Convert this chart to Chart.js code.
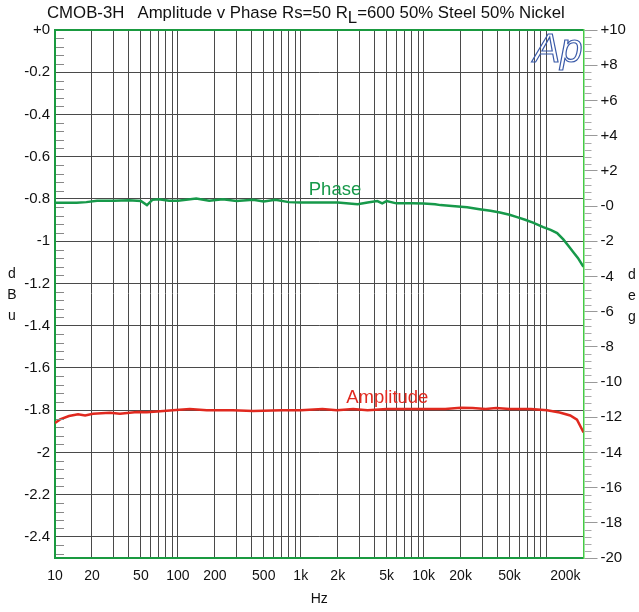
<!DOCTYPE html>
<html>
<head>
<meta charset="utf-8">
<script src="https://cdn.jsdelivr.net/npm/chart.js@4.4.0/dist/chart.umd.min.js"></script>
<style>
body{margin:0;background:#fff;font-family:"Liberation Sans",Arial,sans-serif;}
#box{position:relative;width:639px;height:612px;}
#titolo{position:absolute;left:47px;top:3px;font-size:16.8px;color:#111;white-space:pre;}
.lett{position:absolute;font-size:14px;color:#111;line-height:21px;text-align:center;width:12px;}
</style>
</head>
<body>
<div id="box">
<canvas id="grafico"></canvas>
<div id="titolo">CMOB-3H   Amplitude v Phase Rs=50 R<span style="position:relative;top:5px">L</span>=600 50% Steel 50% Nickel</div>
<div class="lett" style="left:6px;top:263px">d<br>B<br>u</div>
<div class="lett" style="left:626px;top:264px">d<br>e<br>g</div>
</div>
<script>
// dati
let ampFreq = [10, 11, 13, 15.4, 17.6, 20.4, 28, 33.8, 46.5, 56, 67.6, 91, 125, 172, 280, 410, 700, 1000, 1500, 1970, 2670, 3500, 5000, 10000, 15000, 20000, 25000, 32000, 39000, 50000, 75000, 101000, 128000, 156000, 177000, 195000, 200000];
let ampDb = [-1.861, -1.844, -1.828, -1.819, -1.825, -1.817, -1.812, -1.817, -1.809, -1.81, -1.806, -1.801, -1.795, -1.801, -1.80, -1.804, -1.80, -1.80, -1.794, -1.80, -1.794, -1.80, -1.795, -1.795, -1.795, -1.789, -1.79, -1.794, -1.79, -1.795, -1.795, -1.80, -1.811, -1.825, -1.845, -1.893, -1.905];

let phaseFreq = [10, 15, 18, 22, 30, 40, 50, 56, 62, 70, 85, 100, 141, 180, 232, 300, 410, 500, 620, 800, 1000, 2000, 2900, 3500, 4200, 4600, 5000, 6000, 8000, 10000, 12400, 13700, 17000, 22600, 28500, 35000, 41800, 50000, 57600, 67000, 77600, 94000, 108000, 122000, 137000, 150000, 166000, 180000, 195000, 200000];
let phaseDeg = [0.18, 0.18, 0.22, 0.3, 0.3, 0.32, 0.28, 0.05, 0.35, 0.38, 0.3, 0.3, 0.42, 0.3, 0.38, 0.28, 0.36, 0.25, 0.36, 0.22, 0.2, 0.2, 0.1, 0.2, 0.28, 0.15, 0.28, 0.15, 0.15, 0.14, 0.1, 0.05, 0.0, -0.07, -0.18, -0.27, -0.37, -0.5, -0.63, -0.78, -0.94, -1.2, -1.36, -1.54, -1.9, -2.25, -2.64, -2.95, -3.34, -3.45];

let xTickValues = [10, 20, 50, 100, 200, 500, 1000, 2000, 5000, 10000, 20000, 50000, 200000];
let xTickLabels = ['10', '20', '50', '100', '200', '500', '1k', '2k', '5k', '10k', '20k', '50k', '200k'];
let dbTicks = [0, -0.2, -0.4, -0.6, -0.8, -1, -1.2, -1.4, -1.6, -1.8, -2, -2.2, -2.4];
let degTicks = [10, 8, 6, 4, 2, 0, -2, -4, -6, -8, -10, -12, -14, -16, -18, -20];

let etichette = [
  {testo: 'Phase', f: 1900, v: 0.9, asse: 'y2', colore: '#17994a'},
  {testo: 'Amplitude', f: 5060, v: -1.744, asse: 'y', colore: '#e0291f'}
];

let verde = '#1a9a40';
let griglia = '#4a4a4a';
let fmin = 10, fmax = 200000;

function punti(fs, vs) {
  let r = [];
  for (let i = 0; i < fs.length; i++) r.push({x: fs[i], y: vs[i]});
  return r;
}

function etichettaDb(v) {
  if (v == 0) return '+0';
  if (Number.isInteger(v)) return String(v);
  return v.toFixed(1);
}

function etichettaDeg(v) {
  if (v > 0) return '+' + v;
  if (v == 0) return '-0';
  return String(v);
}

let extra = {
  id: 'extra',
  afterDraw(chart) {
    let c = chart.ctx, a = chart.chartArea;
    let sx = chart.scales.x, sy = chart.scales.y, sy2 = chart.scales.y2;
    c.save();
    c.lineWidth = 1;
    // tacche minori sinistra
    c.strokeStyle = '#888';
    for (let i = 1; i <= 62; i++) {
      if (i % 5 == 0) continue;
      let y = Math.round(sy.getPixelForValue(-i * 0.04)) + 0.5;
      c.beginPath(); c.moveTo(a.left + 1, y); c.lineTo(a.left + 9, y); c.stroke();
    }
    // tacche minori destra
    c.strokeStyle = '#aaa';
    for (let i = 1; i < 75; i++) {
      if (i % 5 == 0) continue;
      let y = Math.round(sy2.getPixelForValue(10 - i * 0.4)) + 0.5;
      c.beginPath(); c.moveTo(a.right + 1, y); c.lineTo(a.right + 8, y); c.stroke();
    }
    // etichette asse x
    c.font = '14px "Liberation Sans", Arial';
    c.fillStyle = '#111';
    c.textBaseline = 'middle';
    for (let i = 0; i < xTickValues.length; i++) {
      let x = sx.getPixelForValue(xTickValues[i]);
      if (i == xTickValues.length - 1) { c.textAlign = 'right'; x -= 3; }
      else c.textAlign = 'center';
      c.fillText(xTickLabels[i], x, a.bottom + 18);
    }
    // testi sulle curve
    c.font = '18.5px "Liberation Sans", Arial';
    c.textAlign = 'center';
    etichette.forEach(e => {
      c.fillStyle = e.colore;
      let s = chart.scales[e.asse];
      c.fillText(e.testo, sx.getPixelForValue(e.f), s.getPixelForValue(e.v));
    });
    // logo Ap
    c.font = 'italic 40px "Liberation Sans", Arial';
    c.textAlign = 'left';
    c.textBaseline = 'alphabetic';
    c.strokeStyle = '#3a5aa8';
    c.lineWidth = 1.2;
    c.strokeText('Ap', a.right - 50, a.top + 32);
    c.restore();
  }
};

let ctx = document.getElementById('grafico');
let grafico = new Chart(ctx, {
  type: 'line',
  data: {
    datasets: [
      {label: 'Amplitude', data: punti(ampFreq, ampDb), yAxisID: 'y', borderColor: '#e0291f', borderWidth: 2.5, pointRadius: 0},
      {label: 'Phase', data: punti(phaseFreq, phaseDeg), yAxisID: 'y2', borderColor: '#17994a', borderWidth: 2.5, pointRadius: 0}
    ]
  },
  options: {
    responsive: true,
    maintainAspectRatio: false,
    animation: false,
    layout: {padding: {top: 30, left: 0, right: 0, bottom: 0}},
    plugins: {legend: {display: false}, tooltip: {enabled: false}},
    scales: {
      x: {
        type: 'logarithmic',
        min: fmin,
        max: fmax,
        afterFit: s => { s.height = 54; },
        afterBuildTicks: s => {
          let t = [];
          for (let d = 10; d <= 100000; d *= 10)
            for (let k = 1; k <= 9; k++)
              if (d * k <= fmax) t.push({value: d * k});
          s.ticks = t;
        },
        ticks: {display: false},
        grid: {
          color: c => (c.tick && c.tick.value == fmin) ? 'rgba(0,0,0,0)' : griglia,
          drawTicks: false
        },
        border: {color: verde, width: 2},
        title: {display: true, text: 'Hz', color: '#111', font: {size: 14, family: '"Liberation Sans", Arial'}, padding: {top: 0, bottom: 4}}
      },
      y: {
        position: 'left',
        min: -2.5,
        max: 0,
        afterFit: s => { s.width = 55; },
        afterBuildTicks: s => { s.ticks = dbTicks.map(v => ({value: v})); },
        ticks: {callback: v => etichettaDb(v), color: '#111', padding: 5, font: {size: 15, family: '"Liberation Sans", Arial'}},
        grid: {
          color: c => (c.tick && c.tick.value == 0) ? verde : griglia,
          lineWidth: c => (c.tick && c.tick.value == 0) ? 2 : 1,
          drawTicks: false
        },
        border: {color: verde, width: 2}
      },
      y2: {
        position: 'right',
        min: -20,
        max: 10,
        afterFit: s => { s.width = 55.5; },
        afterBuildTicks: s => { s.ticks = degTicks.map(v => ({value: v})); },
        ticks: {callback: v => etichettaDeg(v), color: '#111', padding: 3, font: {size: 15, family: '"Liberation Sans", Arial'}},
        grid: {drawOnChartArea: false, color: '#999', tickLength: 14},
        border: {color: '#4c4', width: 1.5}
      }
    }
  },
  plugins: [extra]
});
</script>
</body>
</html>
